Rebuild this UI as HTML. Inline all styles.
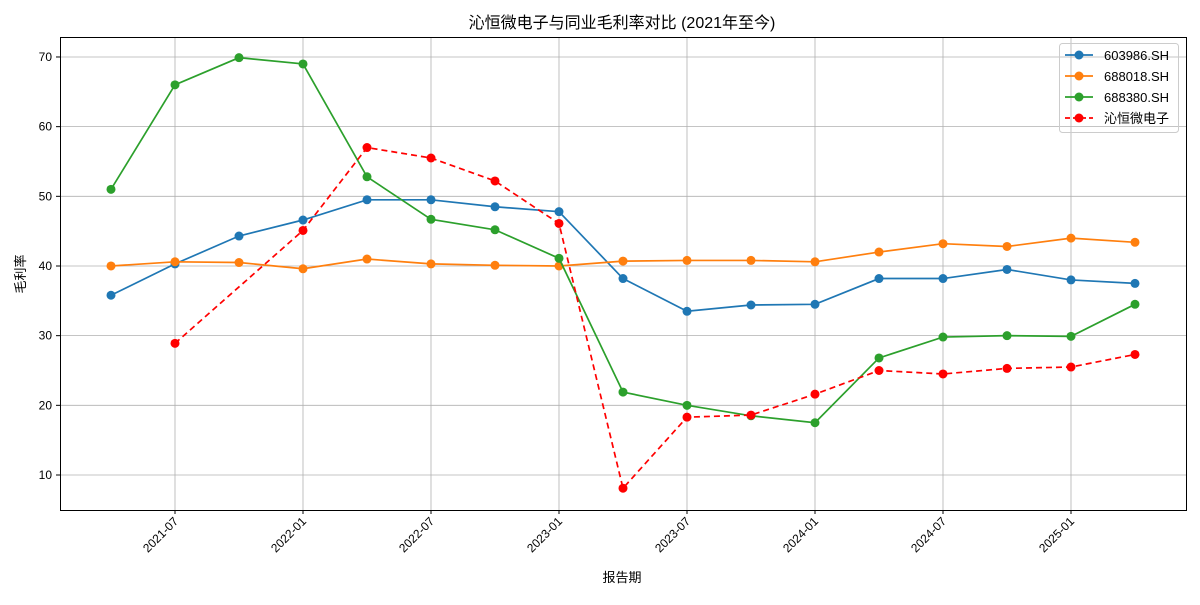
<!DOCTYPE html>
<html><head><meta charset="utf-8"><style>
body{margin:0;background:#fff;}
svg text{font-family:"Liberation Sans","Noto Sans CJK SC",sans-serif;}
</style></head><body>
<svg id="chart" width="1200" height="600" xmlns="http://www.w3.org/2000/svg">
<rect width="1200" height="600" fill="#fff"/>
<text x="622" y="28" text-anchor="middle" font-size="16" fill="#000">沁恒微电子与同业毛利率对比 (2021年至今)</text>
<g id="grid"></g><g id="axes"></g><g id="series"></g>
<rect x="60.5" y="37.5" width="1126" height="473" fill="none" stroke="#000" stroke-width="1"/>
<text x="622" y="582" text-anchor="middle" font-size="13">报告期</text>
<text transform="translate(25,274) rotate(-90)" text-anchor="middle" font-size="13">毛利率</text>
<g id="legend"></g>
</svg>
<script>
const periods=["2021-03","2021-06","2021-09","2021-12","2022-03","2022-06","2022-09","2022-12","2023-03","2023-06","2023-09","2023-12","2024-03","2024-06","2024-09","2024-12","2025-03"];
const s603986=[35.8,40.3,44.3,46.6,49.5,49.5,48.5,47.8,38.2,33.5,34.4,34.5,38.2,38.2,39.5,38.0,37.5];
const s688018=[40.0,40.6,40.5,39.6,41.0,40.3,40.1,40.0,40.7,40.8,40.8,40.6,42.0,43.2,42.8,44.0,43.4];
const s688380=[51.0,66.0,69.9,69.0,52.8,46.7,45.2,41.1,21.9,20.0,18.5,17.5,26.8,29.8,30.0,29.9,34.5];
const sWCH=[null,28.9,null,45.1,57.0,55.5,52.2,46.1,8.1,18.3,18.6,21.6,25.0,24.5,25.3,25.5,27.3];
const yTicks=[10,20,30,40,50,60,70];
const xTickLabels=["2021-07","2022-01","2022-07","2023-01","2023-07","2024-01","2024-07","2025-01"];
const xTickIdx=[1,3,5,7,9,11,13,15];
const NS="http://www.w3.org/2000/svg";
const X=i=>111+64*i;
const Y=v=>475-(v-10)*6.967;
function mk(tag,attrs,parent){const e=document.createElementNS(NS,tag);for(const k in attrs)e.setAttribute(k,attrs[k]);parent.appendChild(e);return e;}
const grid=document.getElementById('grid'),axes=document.getElementById('axes'),ser=document.getElementById('series'),leg=document.getElementById('legend');
yTicks.forEach(v=>{
 const l=mk('line',{x1:60,x2:1186,y1:Y(v),y2:Y(v),stroke:'#b0b0b0','stroke-width':0.8},grid);
 
 
 mk('line',{x1:56,x2:60,y1:Y(v),y2:Y(v),stroke:'#000'},axes);
 const t=mk('text',{x:52,y:Y(v)+4,'text-anchor':'end','font-size':12},axes);t.textContent=v;
 
 
});
xTickIdx.forEach((i,k)=>{
 const x=X(i);
 const l=mk('line',{x1:x,x2:x,y1:37,y2:510,stroke:'#b0b0b0','stroke-width':0.8},grid);
 
 
 mk('line',{x1:x,x2:x,y1:510,y2:514,stroke:'#000'},axes);
 const t=mk('text',{x:x+4,y:522,'text-anchor':'end','font-size':12,transform:`rotate(-45 ${x+4} 522)`},axes);t.textContent=xTickLabels[k];
 
 
});
const defs=[[s603986,'#1f77b4',null,'603986.SH'],[s688018,'#ff7f0e',null,'688018.SH'],[s688380,'#2ca02c',null,'688380.SH'],[sWCH,'#ff0000','6,4','沁恒微电子']];
defs.forEach(([d,c,dash,name],si)=>{
 const pts=d.map((v,i)=>v==null?null:[X(i),Y(v)]).filter(p=>p);
 const p=mk('polyline',{points:pts.map(p=>p.join(',')).join(' '),fill:'none',stroke:c,'stroke-width':1.7},ser);
 if(dash)p.setAttribute('stroke-dasharray',dash);
 
 
 pts.forEach(q=>{const m=mk('circle',{cx:q[0],cy:q[1],r:4.5,fill:c},ser);
  
  });
 const ly=55+si*21;
 const ll=mk('line',{x1:1065,x2:1093,y1:ly,y2:ly,stroke:c,'stroke-width':1.7},leg);
 if(dash)ll.setAttribute('stroke-dasharray','5,3');
 mk('circle',{cx:1079,cy:ly,r:4.5,fill:c},leg);
 const t=mk('text',{x:1104,y:ly+5,'font-size':13},leg);t.textContent=name;
 
 
});
const lb=mk('rect',{x:1059.5,y:43.5,width:119,height:89,fill:'none',stroke:'#ccc',rx:3},leg);


</script>
</body></html>
